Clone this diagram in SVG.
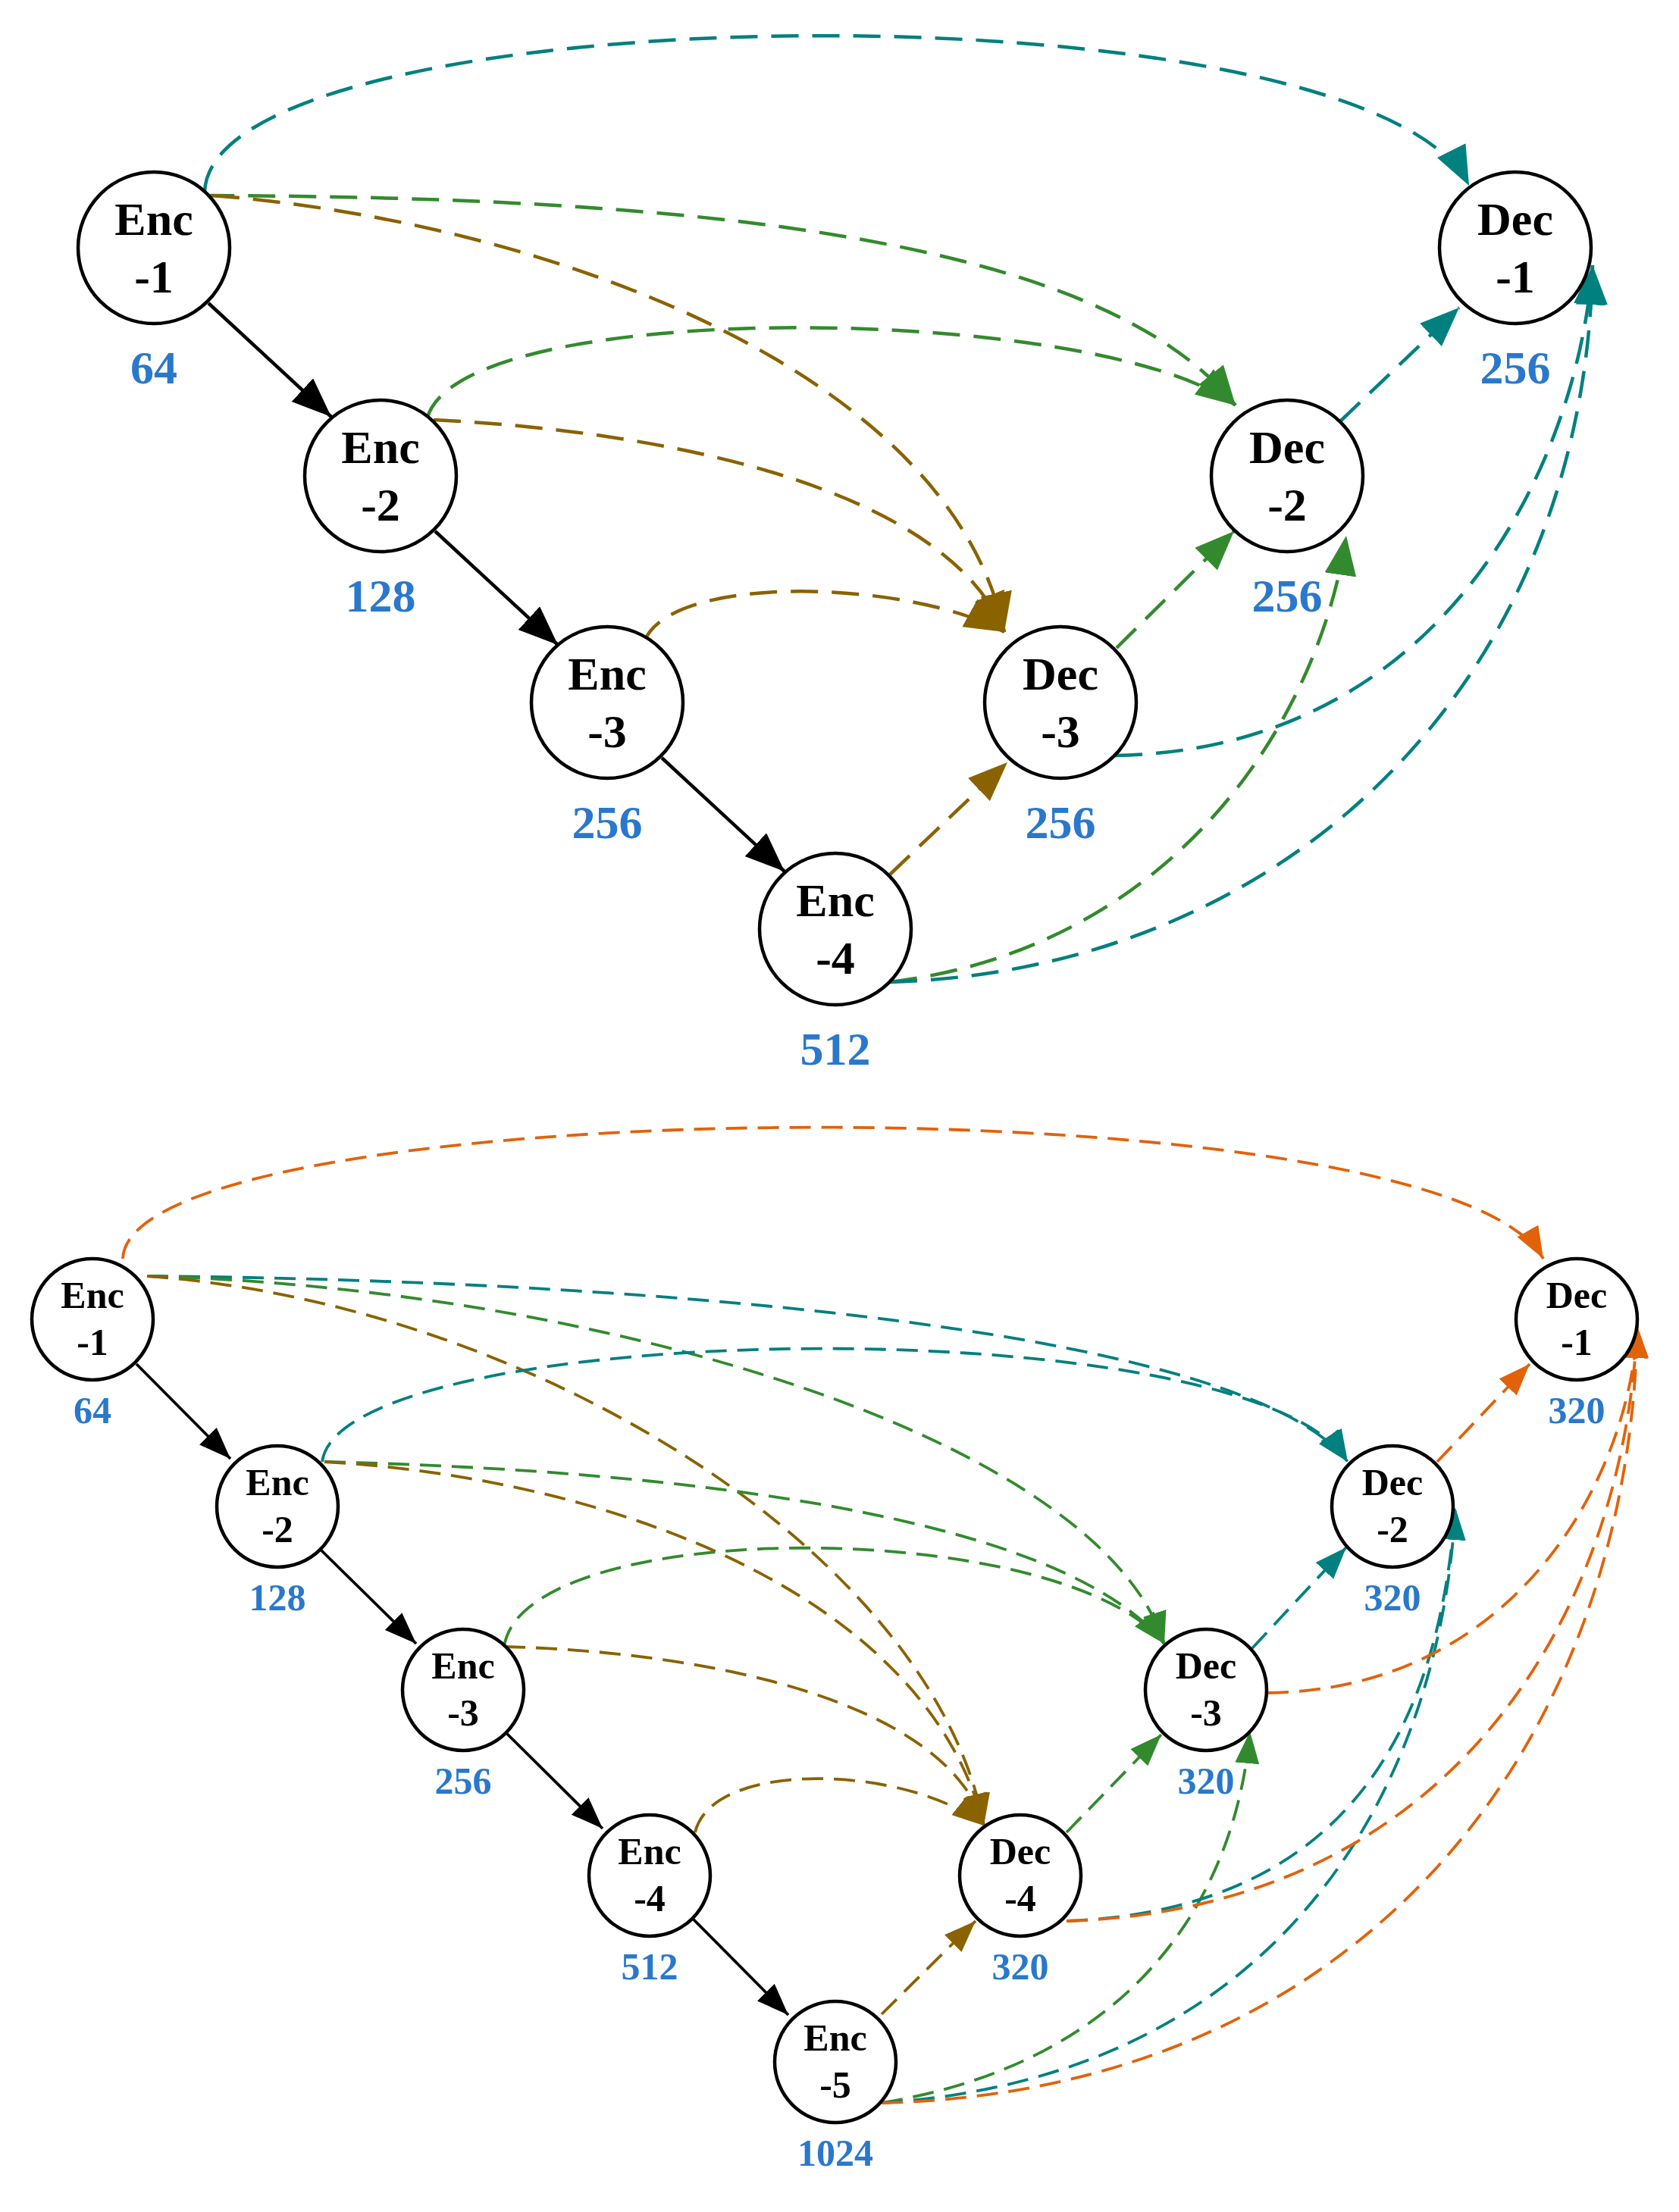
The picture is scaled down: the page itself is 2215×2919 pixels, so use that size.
<svg xmlns="http://www.w3.org/2000/svg" width="2215" height="2919" viewBox="0 0 2215 2919">
<style>
.n{fill:#fff;stroke:#000;stroke-width:4.5}
.t{font-family:"Liberation Serif",serif;font-weight:bold;text-anchor:middle;fill:#000}
.t1{font-size:62px}.t2{font-size:50px}
.l{font-family:"Liberation Serif",serif;font-weight:bold;text-anchor:middle;fill:#2a78cc}
.e{fill:none;stroke-width:4.5}
.d1{stroke-dasharray:36 18}.d2{stroke-dasharray:28 14;stroke-width:3.8}
.k{stroke:#000}.tl{stroke:#00807f}.gr{stroke:#338a2e}.br{stroke:#8a6200}.or{stroke:#e2620a}
</style>
<defs>
<marker id="ak" markerUnits="userSpaceOnUse" markerWidth="60" markerHeight="50" refX="52" refY="21" orient="auto"><path d="M0,0L52,21L0,42z" fill="#000"/></marker>
<marker id="atl" markerUnits="userSpaceOnUse" markerWidth="60" markerHeight="50" refX="52" refY="21" orient="auto"><path d="M0,0L52,21L0,42z" fill="#00807f"/></marker>
<marker id="agr" markerUnits="userSpaceOnUse" markerWidth="60" markerHeight="50" refX="52" refY="21" orient="auto"><path d="M0,0L52,21L0,42z" fill="#338a2e"/></marker>
<marker id="abr" markerUnits="userSpaceOnUse" markerWidth="60" markerHeight="50" refX="52" refY="21" orient="auto"><path d="M0,0L52,21L0,42z" fill="#8a6200"/></marker>
<marker id="sk" markerUnits="userSpaceOnUse" markerWidth="50" markerHeight="40" refX="42" refY="16" orient="auto"><path d="M0,0L42,16L0,32z" fill="#000"/></marker>
<marker id="stl" markerUnits="userSpaceOnUse" markerWidth="50" markerHeight="40" refX="42" refY="16" orient="auto"><path d="M0,0L42,16L0,32z" fill="#00807f"/></marker>
<marker id="sgr" markerUnits="userSpaceOnUse" markerWidth="50" markerHeight="40" refX="42" refY="16" orient="auto"><path d="M0,0L42,16L0,32z" fill="#338a2e"/></marker>
<marker id="sbr" markerUnits="userSpaceOnUse" markerWidth="50" markerHeight="40" refX="42" refY="16" orient="auto"><path d="M0,0L42,16L0,32z" fill="#8a6200"/></marker>
<marker id="sor" markerUnits="userSpaceOnUse" markerWidth="50" markerHeight="40" refX="42" refY="16" orient="auto"><path d="M0,0L42,16L0,32z" fill="#e2620a"/></marker>
</defs>
<g id="connectors">
<path class="e k" d="M275,400L437,550" marker-end="url(#ak)"/>
<path class="e k" d="M574,701L736,851" marker-end="url(#ak)"/>
<path class="e k" d="M873,1000L1035,1150" marker-end="url(#ak)"/>
<path class="e d1 tl" d="M270,253C280,-10 1800,-30 1938,245" marker-end="url(#atl)"/>
<path class="e d1 gr" d="M273,258C900,260 1450,310 1630,535" marker-end="url(#agr)"/>
<path class="e d1 br" d="M280,258C700,290 1250,480 1325,834" marker-end="url(#abr)"/>
<path class="e d1 gr" d="M563,554C600,390 1450,400 1630,535" marker-end="url(#agr)"/>
<path class="e d1 br" d="M572,554C900,570 1250,650 1325,834" marker-end="url(#abr)"/>
<path class="e d1 br" d="M849,849C880,755 1200,765 1325,834" marker-end="url(#abr)"/>
<path class="e d1 br" d="M1174,1154L1329,1006" marker-end="url(#abr)"/>
<path class="e d1 gr" d="M1473,855L1628,701" marker-end="url(#agr)"/>
<path class="e d1 tl" d="M1768,556L1925,406" marker-end="url(#atl)"/>
<path class="e d1 tl" d="M1471,997C1900,990 2080,620 2101,350" marker-end="url(#atl)"/>
<path class="e d1 gr" d="M1174,1296C1550,1250 1740,950 1776,707" marker-end="url(#agr)"/>
<path class="e d1 tl" d="M1174,1296C1700,1280 2090,900 2101,350" marker-end="url(#atl)"/>
<path class="e k" d="M180,1800L304,1925" marker-end="url(#sk)" style="stroke-width:3.8"/>
<path class="e k" d="M424,2046L549,2169" marker-end="url(#sk)" style="stroke-width:3.8"/>
<path class="e k" d="M669,2288L795,2413" marker-end="url(#sk)" style="stroke-width:3.8"/>
<path class="e k" d="M915,2533L1040,2659" marker-end="url(#sk)" style="stroke-width:3.8"/>
<path class="e d2 or" d="M162,1661C170,1440 1900,1420 2036,1661" marker-end="url(#sor)"/>
<path class="e d2 tl" d="M194,1684C900,1690 1650,1760 1778,1929" marker-end="url(#stl)"/>
<path class="e d2 gr" d="M194,1684C800,1700 1450,1900 1536,2169" marker-end="url(#sgr)"/>
<path class="e d2 br" d="M194,1684C700,1720 1230,2050 1298,2409" marker-end="url(#sbr)"/>
<path class="e d2 tl" d="M425,1929C450,1740 1650,1720 1778,1929" marker-end="url(#stl)"/>
<path class="e d2 gr" d="M428,1929C900,1940 1400,2000 1536,2169" marker-end="url(#sgr)"/>
<path class="e d2 br" d="M428,1929C800,1950 1220,2100 1298,2409" marker-end="url(#sbr)"/>
<path class="e d2 gr" d="M665,2173C690,2000 1400,2000 1536,2169" marker-end="url(#sgr)"/>
<path class="e d2 br" d="M665,2173C950,2180 1250,2250 1298,2409" marker-end="url(#sbr)"/>
<path class="e d2 br" d="M917,2418C940,2320 1200,2330 1298,2409" marker-end="url(#sbr)"/>
<path class="e d2 br" d="M1163,2658L1287,2535" marker-end="url(#sbr)"/>
<path class="e d2 gr" d="M1407,2418L1532,2289" marker-end="url(#sgr)"/>
<path class="e d2 tl" d="M1652,2175L1776,2042" marker-end="url(#stl)"/>
<path class="e d2 or" d="M1896,1929L2018,1800" marker-end="url(#sor)"/>
<path class="e d2 gr" d="M1163,2775C1500,2720 1630,2500 1649,2285" marker-end="url(#sgr)"/>
<path class="e d2 tl" d="M1407,2535C1800,2520 1900,2250 1920,1990" marker-end="url(#stl)"/>
<path class="e d2 tl" d="M1163,2775C1700,2740 1900,2350 1920,1990" marker-end="url(#stl)"/>
<path class="e d2 or" d="M1672,2234C2000,2230 2150,1950 2160,1750" marker-end="url(#sor)"/>
<path class="e d2 or" d="M1407,2535C1900,2520 2140,2150 2160,1750" marker-end="url(#sor)"/>
<path class="e d2 or" d="M1163,2775C1800,2760 2150,2300 2160,1750" marker-end="url(#sor)"/>
</g>
<g id="enc1a"><circle class="n" cx="203" cy="327" r="100"/><text class="t t1" x="203" y="310">Enc</text><text class="t t1" x="203" y="386">-1</text><text class="l t1" x="203" y="506">64</text></g>
<g id="enc2a"><circle class="n" cx="502" cy="628" r="100"/><text class="t t1" x="502" y="611">Enc</text><text class="t t1" x="502" y="687">-2</text><text class="l t1" x="502" y="807">128</text></g>
<g id="enc3a"><circle class="n" cx="801" cy="927" r="100"/><text class="t t1" x="801" y="910">Enc</text><text class="t t1" x="801" y="986">-3</text><text class="l t1" x="801" y="1106">256</text></g>
<g id="enc4a"><circle class="n" cx="1102" cy="1226" r="100"/><text class="t t1" x="1102" y="1209">Enc</text><text class="t t1" x="1102" y="1285">-4</text><text class="l t1" x="1102" y="1405">512</text></g>
<g id="dec3a"><circle class="n" cx="1399" cy="927" r="100"/><text class="t t1" x="1399" y="910">Dec</text><text class="t t1" x="1399" y="986">-3</text><text class="l t1" x="1399" y="1106">256</text></g>
<g id="dec2a"><circle class="n" cx="1698" cy="628" r="100"/><text class="t t1" x="1698" y="611">Dec</text><text class="t t1" x="1698" y="687">-2</text><text class="l t1" x="1698" y="807">256</text></g>
<g id="dec1a"><circle class="n" cx="1999" cy="327" r="100"/><text class="t t1" x="1999" y="310">Dec</text><text class="t t1" x="1999" y="386">-1</text><text class="l t1" x="1999" y="506">256</text></g>
<g id="enc1b"><circle class="n" cx="122" cy="1741" r="80"/><text class="t t2" x="122" y="1726">Enc</text><text class="t t2" x="122" y="1788">-1</text><text class="l t2" x="122" y="1878">64</text></g>
<g id="enc2b"><circle class="n" cx="366" cy="1988" r="80"/><text class="t t2" x="366" y="1973">Enc</text><text class="t t2" x="366" y="2035">-2</text><text class="l t2" x="366" y="2125">128</text></g>
<g id="enc3b"><circle class="n" cx="611" cy="2230" r="80"/><text class="t t2" x="611" y="2215">Enc</text><text class="t t2" x="611" y="2277">-3</text><text class="l t2" x="611" y="2367">256</text></g>
<g id="enc4b"><circle class="n" cx="857" cy="2475" r="80"/><text class="t t2" x="857" y="2460">Enc</text><text class="t t2" x="857" y="2522">-4</text><text class="l t2" x="857" y="2612">512</text></g>
<g id="enc5b"><circle class="n" cx="1102" cy="2721" r="80"/><text class="t t2" x="1102" y="2706">Enc</text><text class="t t2" x="1102" y="2768">-5</text><text class="l t2" x="1102" y="2858">1024</text></g>
<g id="dec4b"><circle class="n" cx="1346" cy="2475" r="80"/><text class="t t2" x="1346" y="2460">Dec</text><text class="t t2" x="1346" y="2522">-4</text><text class="l t2" x="1346" y="2612">320</text></g>
<g id="dec3b"><circle class="n" cx="1591" cy="2230" r="80"/><text class="t t2" x="1591" y="2215">Dec</text><text class="t t2" x="1591" y="2277">-3</text><text class="l t2" x="1591" y="2367">320</text></g>
<g id="dec2b"><circle class="n" cx="1837" cy="1988" r="80"/><text class="t t2" x="1837" y="1973">Dec</text><text class="t t2" x="1837" y="2035">-2</text><text class="l t2" x="1837" y="2125">320</text></g>
<g id="dec1b"><circle class="n" cx="2080" cy="1741" r="80"/><text class="t t2" x="2080" y="1726">Dec</text><text class="t t2" x="2080" y="1788">-1</text><text class="l t2" x="2080" y="1878">320</text></g>
</svg>
